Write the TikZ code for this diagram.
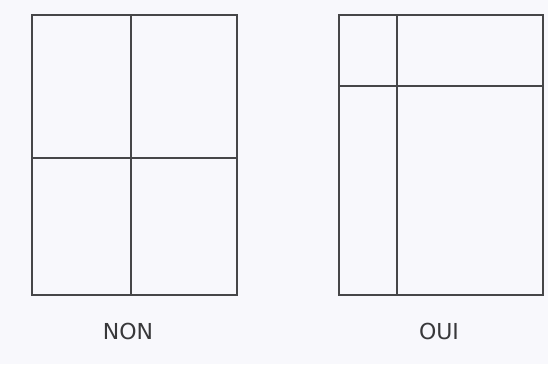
\documentclass[tikz,border=0pt]{standalone}
\usepackage{fontspec}
\setmainfont{DejaVu Sans}
\definecolor{PanelLine}{HTML}{464648}
\definecolor{PageBack}{HTML}{F8F8FC}
\definecolor{LabelGrey}{HTML}{38383A}
\usetikzlibrary{positioning}

\begin{document}
\begin{tikzpicture}[x=1pt,y=-1pt,
    panel/.style={draw=PanelLine,line width=2pt},
    every node/.style={font=\fontsize{22}{22}\selectfont,text=LabelGrey}]
  \fill[PageBack] (0,0) rectangle (548,364);
  \useasboundingbox (0,0) rectangle (548,364);
  % left sheet: four equal panes
  \draw[panel] (32,15) rectangle (237,295);
  \draw[panel] (131,15) -- (131,295);
  \draw[panel] (32,158) -- (237,158);
  % right sheet: narrow strip and header band
  \draw[panel] (339,15) rectangle (543,295);
  \draw[panel] (397,15) -- (397,295);
  \draw[panel] (339,86) -- (543,86);
  \node (non) at (128,331) {NON};
  \node (oui) at (439,331) {OUI};
\end{tikzpicture}
\end{document}
